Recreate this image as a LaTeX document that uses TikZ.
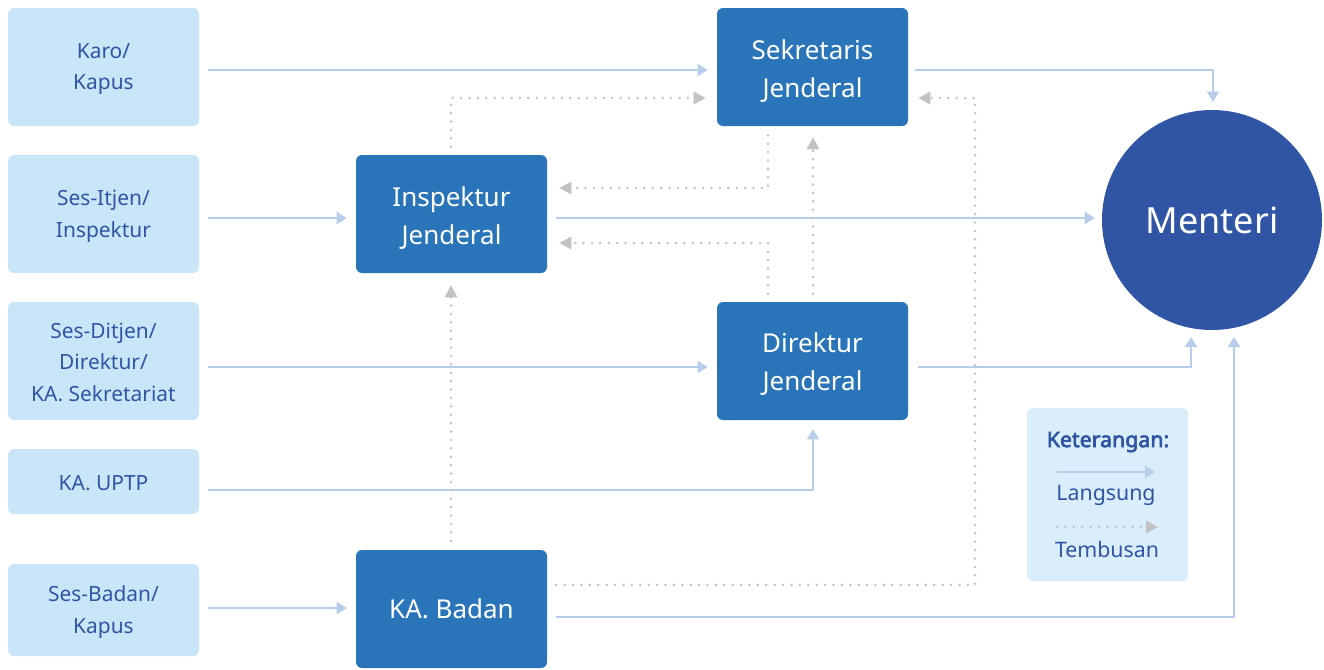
\documentclass[tikz,border=0pt]{standalone}
\usepackage{fontspec}
\setmainfont{Noto Sans}
\newfontfamily\legbold{Noto Sans}[FakeBold=3]
\usetikzlibrary{arrows.meta,calc}
\definecolor{lbox}{HTML}{C9E6F8}
\definecolor{ltext}{HTML}{2F55A4}
\definecolor{dbox}{HTML}{2A75B9}
\definecolor{mcirc}{HTML}{3055A5}
\definecolor{solidc}{HTML}{B7CDEA}
\definecolor{dotc}{HTML}{C2C2C2}
\definecolor{legc}{HTML}{D9EEFA}
\begin{document}
\begin{tikzpicture}[x=0.75pt,y=-0.75pt,
  lightbox/.style={rectangle,rounded corners=4.5pt,fill=lbox,
    minimum width=143.25pt,inner sep=0pt},
  ltxt/.style={text=ltext,align=center,inner sep=0pt,
    font=\fontsize{15.7}{23.7}\selectfont},
  darkbox/.style={rectangle,rounded corners=4.5pt,fill=dbox,
    minimum width=143.25pt,minimum height=88.5pt,inner sep=0pt},
  dtxt/.style={text=white,align=center,inner sep=0pt,
    font=\fontsize{19.5}{28.5}\selectfont},
  solidarrow/.style={draw=solidc,line width=1.6pt,
    -{Triangle[length=7.5pt,width=9pt]}},
  dotarrow/.style={draw=dotc,line width=2.1pt,line cap=round,
    dash pattern=on 0pt off 6.3pt,
    -{Triangle[length=9pt,width=9pt,line cap=butt]}},
]
\useasboundingbox (0,0) rectangle (1324,669);
% left boxes
\node[lightbox,minimum height=88.5pt,label={[ltxt,yshift=-1.5pt]center:Karo/\\Kapus}] (karo) at (103.5,67) {};
\node[lightbox,minimum height=88.5pt,label={[ltxt,yshift=-1.5pt]center:Ses-Itjen/\\Inspektur}] (sesitjen) at (103.5,214) {};
\node[lightbox,minimum height=88.5pt,label={[ltxt,yshift=-1pt]center:Ses-Ditjen/\\Direktur/\\KA. Sekretariat}] (sesditjen) at (103.5,361) {};
\node[lightbox,minimum height=48.75pt,label={[ltxt,yshift=-1.5pt]center:KA. UPTP}] (uptp) at (103.5,481.5) {};
\node[lightbox,minimum height=69pt,label={[ltxt,yshift=-1.5pt]center:Ses-Badan/\\Kapus}] (sesbadan) at (103.5,610) {};
% dark boxes
\node[darkbox,label={[dtxt,yshift=-2.8pt]center:Sekretaris\\Jenderal}] (sekjen) at (812.5,67) {};
\node[darkbox,label={[dtxt,yshift=-2.8pt]center:Inspektur\\Jenderal}] (itjen) at (451.5,214) {};
\node[darkbox,label={[dtxt,yshift=-2.2pt]center:Direktur\\Jenderal}] (dirjen) at (812.5,361) {};
\node[darkbox,label={[dtxt,yshift=0.5pt]center:KA. Badan}] (kabadan) at (451.5,609) {};
% menteri
\node[circle,fill=mcirc,text=white,minimum size=165pt,inner sep=0pt,
  font=\fontsize{27}{32}\selectfont] (menteri) at (1212,220) {Menteri};
% legend
\node[rectangle,rounded corners=4.5pt,fill=legc,minimum width=120.75pt,
  minimum height=129.75pt,inner sep=0pt] (legend) at (1107.5,494.5) {};
\node[text=ltext,inner sep=0pt,font=\legbold\fontsize{16}{18}\selectfont] (legtitle) at (1108,442) {Keterangan:};
\coordinate (ls1) at (1057,472);
\coordinate (ls2) at (1155,472);
\draw[solidarrow] (ls1) -- (ls2);
\node[text=ltext,inner sep=0pt,font=\fontsize{16}{18}\selectfont] (langsung) at (1106,495.5) {Langsung};
\coordinate (ld1) at (1057,527);
\coordinate (ld2) at (1158,527);
\draw[dotarrow] (ld1) -- (ld2);
\node[text=ltext,inner sep=0pt,font=\fontsize{16}{18}\selectfont] (tembusan) at (1107,549) {Tembusan};
% solid connectors
\draw[solidarrow] ($(karo.east)+(9,3)$) -- ($(sekjen.west)+(-9,3)$);
\draw[solidarrow] ($(sekjen.east)+(7,3)$) -| ($(menteri.north)+(1,-8)$);
\draw[solidarrow] ($(sesitjen.east)+(9,4)$) -- ($(itjen.west)+(-9,4)$);
\draw[solidarrow] ($(itjen.east)+(9,4)$) -- ($(menteri.west)+(-7,-2)$);
\draw[solidarrow] ($(sesditjen.east)+(9,6)$) -- ($(dirjen.west)+(-9,6)$);
\draw[solidarrow] ($(dirjen.east)+(10,6)$) -| (1191,337);
\draw[solidarrow] ($(uptp.east)+(9,8.5)$) -| ($(dirjen.south)+(0.5,9)$);
\draw[solidarrow] ($(sesbadan.east)+(9,-2)$) -- ($(kabadan.west)+(-9,-1)$);
\draw[solidarrow] ($(kabadan.east)+(9,8)$) -| (1234,337);
% dotted connectors
\draw[dotarrow] ($(itjen.north)+(-0.5,-8)$) |- ($(sekjen.west)+(-11,31)$);
\draw[dotarrow] ($(sekjen.south)+(-44.5,9)$) |- ($(itjen.east)+(12,-26)$);
\draw[dotarrow] ($(dirjen.north)+(-44.5,-8)$) |- ($(itjen.east)+(12,29)$);
\draw[dotarrow] ($(dirjen.north)+(0.5,-8)$) -- ($(sekjen.south)+(0.5,11)$);
\draw[dotarrow] ($(kabadan.north)+(-0.5,-9)$) -- ($(itjen.south)+(-0.5,12)$);
\coordinate (fturn) at (975,585);
\draw[dotarrow] ($(kabadan.east)+(9,-24)$) -- (fturn) |- ($(sekjen.east)+(10,31)$);
\end{tikzpicture}
\end{document}
